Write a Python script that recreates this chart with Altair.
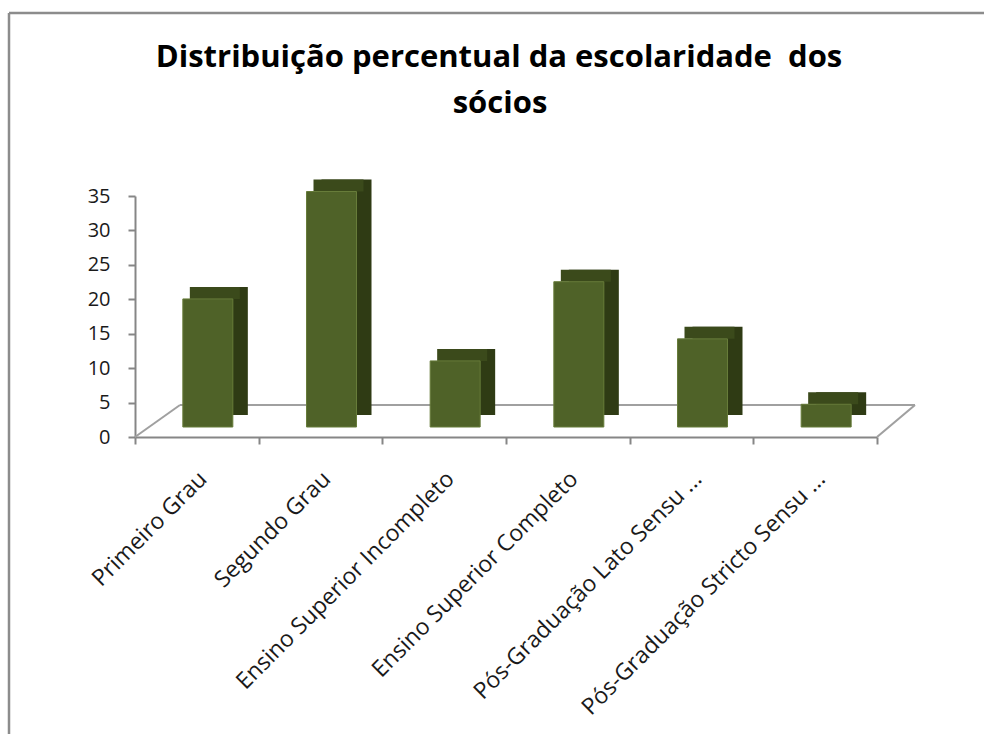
import altair as alt
import pandas as pd

categories = [
    "Primeiro Grau",
    "Segundo Grau",
    "Ensino Superior Incompleto",
    "Ensino Superior Completo",
    "Pós-Graduação Lato Sensu ...",
    "Pós-Graduação Stricto Sensu ...",
]
values = [18.6, 34.2, 9.6, 21.1, 12.8, 3.3]
y_ticks = [0, 5, 10, 15, 20, 25, 30, 35]
title_lines = ["Distribuição percentual da escolaridade \u00a0dos", "sócios"]

df = pd.DataFrame({"cat": categories, "val": values})

W, H = 742, 241
AX = "#868686"

x_enc = alt.X(
    "cat:N",
    sort=categories,
    scale=alt.Scale(paddingInner=0, paddingOuter=0),
    axis=alt.Axis(
        title=None,
        labelAngle=-45,
        labelAlign="right",
        labelBaseline="middle",
        labelFont="Open Sans",
        labelFontSize=23,
        labelColor="#1a1a1a",
        labelPadding=31,
        labelOffset=6,
        labelLimit=500,
        tickBand="extent",
        tickSize=7,
        tickWidth=2,
        tickColor=AX,
        domainColor=AX,
        domainWidth=2,
    ),
)
y_enc = alt.Y(
    "val:Q",
    scale=alt.Scale(domain=[0, 35], nice=False),
    axis=alt.Axis(
        title=None,
        values=y_ticks,
        grid=False,
        labelFont="Open Sans",
        labelFontSize=20,
        labelColor="#1a1a1a",
        labelPadding=18,
        tickSize=7,
        tickWidth=2,
        tickColor=AX,
        domainColor=AX,
        domainWidth=2,
    ),
)

one = pd.DataFrame({"k": [0]})

border = alt.Chart(one).mark_rule(color="#8c8c8c", strokeWidth=2.5)
border_left = border.encode(x=alt.value(-126), y=alt.value(-183), y2=alt.value(560))
border_top = border.encode(x=alt.value(-126), x2=alt.value(870), y=alt.value(-183))

floor = alt.Chart(one).mark_rule(color="#a0a0a0", strokeWidth=2)
floor_back = floor.encode(x=alt.value(45), x2=alt.value(780), y=alt.value(209), y2=alt.value(209))
floor_left = floor.encode(x=alt.value(0), x2=alt.value(45), y=alt.value(H), y2=alt.value(209))
floor_right = floor.encode(x=alt.value(W), x2=alt.value(780), y=alt.value(H), y2=alt.value(209))

title_style = dict(font="Open Sans", fontSize=31, fontWeight="bold", color="#000000",
                   align="center", baseline="alphabetic")
title1 = alt.Chart(one).mark_text(text=title_lines[0], **title_style).encode(
    x=alt.value(364), y=alt.value(-129))
title2 = alt.Chart(one).mark_text(text=title_lines[1], **title_style).encode(
    x=alt.value(365), y=alt.value(-83))

side = alt.Chart(df).mark_bar(
    size=50, xOffset=26, x2Offset=26, yOffset=-22, y2Offset=-22, color="#2F3B14"
).encode(x=x_enc, y=y_enc)
top = alt.Chart(df).mark_bar(
    size=50, xOffset=18, x2Offset=18, yOffset=-22, y2Offset=-10, color="#3B4A1B"
).encode(x=x_enc, y=y_enc, y2=alt.Y2("val"))
front = alt.Chart(df).mark_bar(
    size=50, xOffset=11, x2Offset=11, yOffset=-10, y2Offset=-10,
    color="#4F6228", stroke="#677C3A", strokeWidth=1,
).encode(x=x_enc, y=y_enc)

chart = (
    alt.layer(border_left, border_top, floor_back, floor_left, floor_right,
              title1, title2, side, top, front)
    .properties(
        width=W,
        height=H,
        autosize=alt.AutoSizeParams(type="none"),
        padding={"left": 135, "top": 196, "right": 107, "bottom": 297},
        background="white",
    )
    .configure_view(stroke=None)
)

chart.save("out.html", embed_options={"renderer": "svg", "actions": False})
